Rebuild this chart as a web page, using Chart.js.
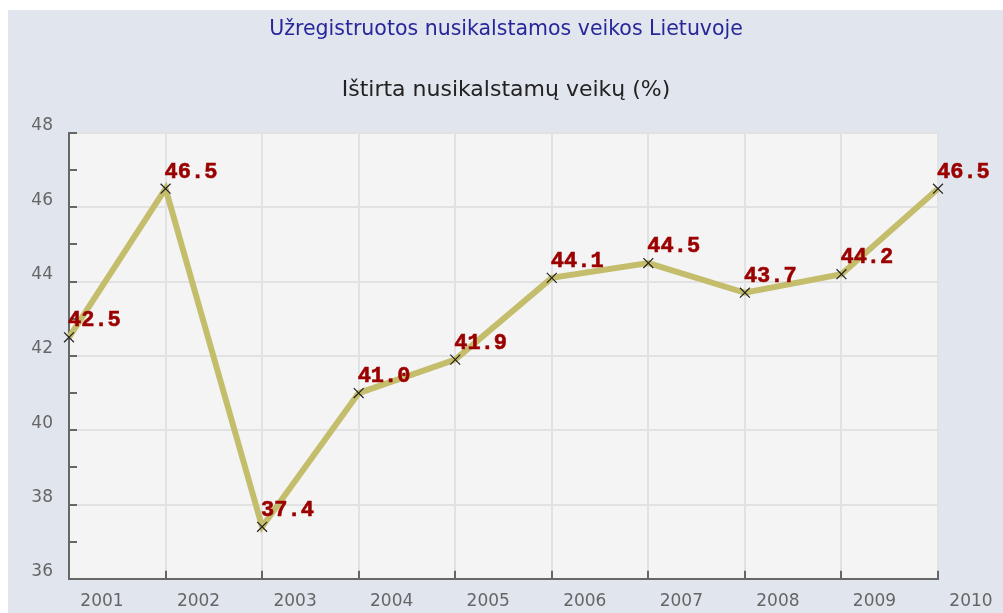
<!DOCTYPE html>
<html>
<head>
<meta charset="utf-8">
<script src="https://cdn.jsdelivr.net/npm/chart.js@4.4.1/dist/chart.umd.min.js"></script>
<style>
  body { margin: 0; background: #fff; }
  #wrap { position: absolute; left: 8px; top: 10px; width: 995px; height: 603px; background: #e1e5ee; }
</style>
</head>
<body>
<div id="wrap"><canvas id="chart"></canvas></div>
<script>
const years = ['2001', '2002', '2003', '2004', '2005', '2006', '2007', '2008', '2009', '2010'];
const solvedPct = [42.5, 46.5, 37.4, 41.0, 41.9, 44.1, 44.5, 43.7, 44.2, 46.5];
const yMin = 36;
const yMax = 48;

// plot background
const plotBg = {
  id: 'plotBg',
  beforeDraw(chart) {
    const { ctx, chartArea: a } = chart;
    ctx.save();
    ctx.fillStyle = '#f4f4f4';
    ctx.fillRect(a.left, a.top, a.right - a.left, a.bottom - a.top);
    ctx.restore();
  }
};

// value labels above and right of each point
const valueLabels = {
  id: 'valueLabels',
  afterDatasetsDraw(chart) {
    const ctx = chart.ctx;
    const meta = chart.getDatasetMeta(0);
    ctx.save();
    ctx.font = 'bold 22px "Liberation Mono", monospace';
    ctx.fillStyle = '#9b0000';
    ctx.strokeStyle = '#9b0000';
    ctx.lineWidth = 0.6;
    ctx.textAlign = 'left';
    ctx.textBaseline = 'alphabetic';
    meta.data.forEach((pt, i) => {
      const txt = solvedPct[i].toFixed(1);
      ctx.fillText(txt, pt.x - 1, pt.y - 11);
      ctx.strokeText(txt, pt.x - 1, pt.y - 11);
    });
    ctx.restore();
  }
};

new Chart(document.getElementById('chart'), {
  type: 'line',
  data: {
    labels: years,
    datasets: [{
      data: solvedPct,
      borderColor: '#c4bd6c',
      borderWidth: 6,
      tension: 0,
      pointStyle: 'crossRot',
      pointRadius: 7,
      pointBorderColor: '#222',
      pointBorderWidth: 1.2,
      pointHoverRadius: 7
    }]
  },
  options: {
    responsive: true,
    maintainAspectRatio: false,
    animation: false,
    layout: { padding: { left: 1, right: 0, top: 0, bottom: 0 } },
    plugins: {
      legend: { display: false },
      tooltip: { enabled: false },
      title: {
        display: true,
        text: 'Užregistruotos nusikalstamos veikos Lietuvoje',
        color: '#27279a',
        font: { family: '"DejaVu Sans"', size: 20.5, weight: 'normal' },
        padding: { top: 7.1, bottom: 0 }
      },
      subtitle: {
        display: true,
        text: 'Ištirta nusikalstamų veikų (%)',
        color: '#222',
        font: { family: '"DejaVu Sans"', size: 22, weight: 'normal' },
        padding: { top: 35.1, bottom: 29.8 }
      }
    },
    scales: {
      x: {
        offset: false,
        grid: {
          color: '#e2e2e2',
          lineWidth: 2,
          tickColor: '#666',
          tickLength: -8,
          tickWidth: 2
        },
        border: { color: '#666', width: 2 },
        ticks: {
          color: '#666',
          font: { family: '"DejaVu Sans"', size: 17 },
          labelOffset: 33,
          padding: 21,
          maxRotation: 0,
          autoSkip: false
        },
        afterFit(scale) {
          scale.height = 33;
          scale.paddingRight = 65;
        }
      },
      y: {
        min: yMin,
        max: yMax,
        grid: {
          color: ctx => (ctx.tick && ctx.tick.value % 2 !== 0) ? 'rgba(0,0,0,0)' : '#e2e2e2',
          lineWidth: 2,
          tickColor: '#666',
          tickLength: -8,
          tickWidth: 2
        },
        border: { color: '#666', width: 2 },
        ticks: {
          stepSize: 1,
          autoSkip: false,
          color: '#666',
          font: { family: '"DejaVu Sans"', size: 17 },
          labelOffset: -7,
          padding: 24,
          callback: v => (v % 2 === 0 ? v : '')
        },
        afterFit(scale) { scale.width = 60; }
      }
    }
  },
  plugins: [plotBg, valueLabels]
});
</script>
</body>
</html>
